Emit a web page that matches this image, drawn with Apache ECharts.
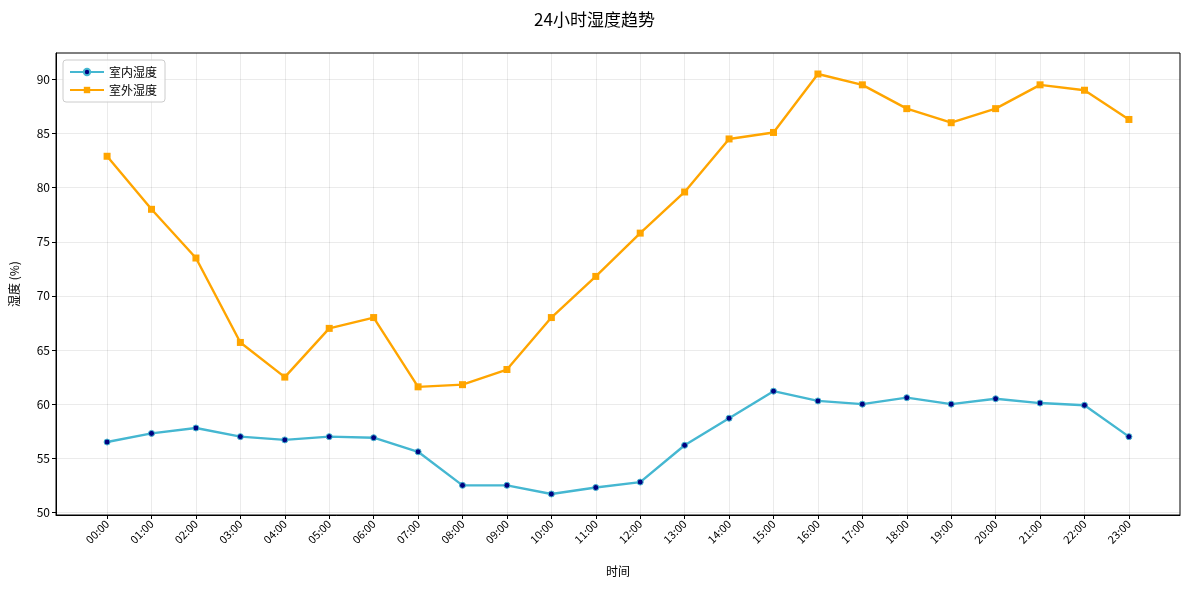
<!DOCTYPE html>
<html>
<head>
<meta charset="utf-8">
<script src="https://cdn.jsdelivr.net/npm/echarts@6/dist/echarts.min.js"></script>
<style>
  html, body { margin: 0; padding: 0; background: #fff; }
  #chart { width: 1189px; height: 590px; }
</style>
</head>
<body>
<div id="chart"></div>
<script>
// hours of the day
const hours = ['00:00', '01:00', '02:00', '03:00', '04:00', '05:00', '06:00', '07:00',
  '08:00', '09:00', '10:00', '11:00', '12:00', '13:00', '14:00', '15:00',
  '16:00', '17:00', '18:00', '19:00', '20:00', '21:00', '22:00', '23:00'];
const indoor = [56.5, 57.3, 57.8, 57.0, 56.7, 57.0, 56.9, 55.6, 52.5, 52.5, 51.7, 52.3,
  52.8, 56.2, 58.7, 61.2, 60.3, 60.0, 60.6, 60.0, 60.5, 60.1, 59.9, 57.0];
const outdoor = [82.9, 78.0, 73.5, 65.7, 62.5, 67.0, 68.0, 61.6, 61.8, 63.2, 68.0, 71.8,
  75.8, 79.6, 84.5, 85.1, 90.5, 89.5, 87.3, 86.0, 87.3, 89.5, 89.0, 86.3];
const yTicks = [50, 55, 60, 65, 70, 75, 80, 85, 90];

const FONT = '"Noto Sans CJK SC", "DejaVu Sans", sans-serif';
const xTicks = hours.map((h, i) => i);

// matplotlib-style 5% padding around the data
const pad = (lo, hi) => {
  const m = (hi - lo) * 0.05;
  return [lo - m, hi + m];
};
const allVals = indoor.concat(outdoor);
const [yMin, yMax] = pad(Math.min(...allVals), Math.max(...allVals));
const [xMin, xMax] = pad(0, hours.length - 1);

const chart = echarts.init(document.getElementById('chart'), null, { renderer: 'canvas' });

chart.setOption({
  animation: false,
  backgroundColor: '#fff',
  textStyle: { fontFamily: FONT },
  title: {
    text: '24小时湿度趋势',
    left: 'center',
    top: 6,
    textStyle: { fontFamily: FONT, fontSize: 17, fontWeight: 'normal', color: '#000' }
  },
  legend: {
    orient: 'vertical',
    left: 63,
    top: 60,
    padding: [6, 8, 6, 6],
    itemGap: 6,
    itemWidth: 34,
    itemHeight: 8,
    borderColor: '#ccc',
    borderWidth: 1,
    borderRadius: 3,
    backgroundColor: 'rgba(255,255,255,0.85)',
    textStyle: { fontFamily: FONT, fontSize: 12, color: '#000' },
    data: ['室内湿度', '室外湿度']
  },
  grid: {
    left: 56,
    right: 9,
    top: 53,
    bottom: 75,
    show: true,
    borderColor: '#000',
    borderWidth: 1,
    containLabel: false
  },
  xAxis: {
    type: 'value',
    min: xMin,
    max: xMax,
    name: '时间',
    nameLocation: 'middle',
    nameGap: 50,
    nameTextStyle: { fontFamily: FONT, fontSize: 12, color: '#000' },
    axisLine: { show: true, onZero: false, lineStyle: { color: '#000', width: 1 } },
    axisTick: { show: true, length: 4, customValues: xTicks, lineStyle: { color: '#000' } },
    axisLabel: {
      customValues: xTicks,
      formatter: (v) => hours[Math.round(v)] || '',
      rotate: 45,
      margin: 7,
      fontFamily: FONT,
      fontSize: 11,
      color: '#000'
    },
    splitLine: { show: true, lineStyle: { color: 'rgba(0,0,0,0.08)', width: 1 } }
  },
  yAxis: {
    type: 'value',
    min: yMin,
    max: yMax,
    name: '湿度 (%)',
    nameLocation: 'middle',
    nameGap: 36,
    nameRotate: 90,
    nameTextStyle: { fontFamily: FONT, fontSize: 12, color: '#000' },
    axisLine: { show: true, onZero: false, lineStyle: { color: '#000', width: 1 } },
    axisTick: { show: true, length: 4, customValues: yTicks, lineStyle: { color: '#000' } },
    axisLabel: {
      customValues: yTicks,
      margin: 6,
      fontFamily: FONT,
      fontSize: 12,
      color: '#000'
    },
    splitLine: { show: true, lineStyle: { color: 'rgba(0,0,0,0.08)', width: 1 } }
  },
  series: [
    {
      name: '室内湿度',
      type: 'line',
      data: indoor.map((v, i) => [i, v]),
      symbol: 'circle',
      symbolSize: 6,
      lineStyle: { color: '#45B7D1', width: 2.4 },
      itemStyle: { color: '#000080', borderColor: '#45B7D1', borderWidth: 1 },
      z: 3
    },
    {
      name: '室外湿度',
      type: 'line',
      data: outdoor.map((v, i) => [i, v]),
      symbol: 'rect',
      symbolSize: 7,
      lineStyle: { color: '#FFA500', width: 2.4 },
      itemStyle: { color: '#FFA500', borderColor: '#FFA500', borderWidth: 0 },
      z: 2
    }
  ]
});
</script>
</body>
</html>
